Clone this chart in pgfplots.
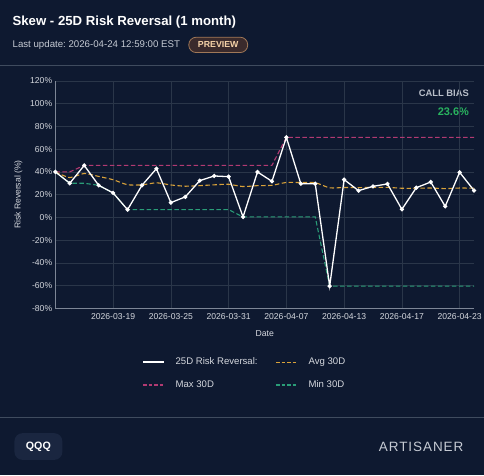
\documentclass[border=0pt]{standalone}
\usepackage{pgfplots}
\usepackage{pgfplotstable}
\pgfplotsset{compat=1.18}
\usepackage{fontspec}
\setmainfont{Liberation Sans}
\newfontfamily\logofont[LetterSpace=7]{Liberation Sans}
\frenchspacing

\definecolor{bg}{HTML}{0E1930}
\definecolor{gridc}{HTML}{2A3649}
\definecolor{axisc}{HTML}{7D8696}
\definecolor{labelc}{HTML}{D5D8DE}
\definecolor{subc}{HTML}{C5CAD3}
\definecolor{sepc}{HTML}{3F4B5E}
\definecolor{avgc}{HTML}{D9A23A}
\definecolor{maxc}{HTML}{B23A72}
\definecolor{minc}{HTML}{2A9D78}
\definecolor{pillfill}{HTML}{3A2A2C}
\definecolor{pilldraw}{HTML}{A07858}
\definecolor{pilltext}{HTML}{F5D2A8}
\definecolor{badgefill}{HTML}{1A2640}
\definecolor{biasc}{HTML}{B9BFC9}
\definecolor{biasval}{HTML}{29B35F}

% trading-day index, 25D risk reversal, running average, running max, running min
\pgfplotstableread{
idx rr    avg  max  min
0   40    40   40   40
1   30    35   40   30
2   45.7  38.6 45.7 30
3   28.2  36.0 45.7 28.2
4   21.5  33.1 45.7 21.5
5   6.8   28.7 45.7 6.8
6   28.2  28.6 45.7 6.8
7   42.8  30.4 45.7 6.8
8   13    28.5 45.7 6.8
9   18    27.4 45.7 6.8
10  32.3  27.9 45.7 6.8
11  36.4  28.6 45.7 6.8
12  35.8  29.1 45.7 6.8
13  0.4   27.1 45.7 0.4
14  39.9  27.9 45.7 0.4
15  31.7  28.2 45.7 0.4
16  70.3  30.7 70.3 0.4
17  29.6  30.6 70.3 0.4
18  29.6  30.5 70.3 0.4
19  -60.4 26.0 70.3 -60.4
20  33.2  26.3 70.3 -60.4
21  23.5  26.2 70.3 -60.4
22  27.3  26.3 70.3 -60.4
23  29.4  26.4 70.3 -60.4
24  7.1   25.6 70.3 -60.4
25  26.1  25.6 70.3 -60.4
26  31.1  25.8 70.3 -60.4
27  9.7   25.3 70.3 -60.4
28  39.6  25.8 70.3 -60.4
29  23.6  25.7 70.3 -60.4
}\rrdata

\begin{document}
\begin{tikzpicture}
\begin{scope}[x=1pt,y=1pt]
% card background
\fill[bg] (0,0) rectangle (484,476);

% header
\node[anchor=base west, inner sep=0pt, text=white, font=\fontsize{13.2}{15}\selectfont\bfseries]
  at (12,450) {Skew - 25D Risk Reversal (1 month)};
\node[anchor=base west, inner sep=0pt, text=subc, font=\fontsize{9.7}{11}\selectfont]
  at (12,428.4) {Last update: 2026-04-24 12:59:00 EST};
\draw[pilldraw, fill=pillfill, line width=0.8pt, rounded corners=7.5pt]
  (188.7,423.3) rectangle (247.7,438.7);
\node[text=pilltext, font=\fontsize{8.8}{10}\selectfont\bfseries, inner sep=0pt]
  at (218.2,431) {PREVIEW};
\draw[sepc, line width=0.9pt] (0,410) -- (484,410);

% footer
\draw[sepc, line width=0.9pt] (0,57.7) -- (484,57.7);
\fill[badgefill, rounded corners=8pt] (14,15.3) rectangle (62,42);
\node[text=white, font=\fontsize{10.7}{12}\selectfont\bfseries, inner sep=0pt]
  at (38,28.7) {QQQ};
\node[anchor=east, text=subc, font=\fontsize{13.5}{15}\logofont, inner sep=0pt]
  at (464,28.7) {ARTISANER};

% call bias readout
\node[anchor=east, inner sep=0pt, text=biasc, font=\fontsize{9.4}{11}\selectfont\bfseries]
  at (469.5,382.7) {CALL BIAS};
\node[anchor=east, inner sep=0pt, text=biasval, font=\fontsize{11}{13}\selectfont\bfseries]
  at (469.5,364.3) {23.6\%};
\end{scope}

\begin{axis}[
  at={(55pt,167pt)}, anchor=south west,
  scale only axis, width=419.5pt, height=228pt,
  xmin=0, xmax=29, ymin=-80, ymax=120,
  clip=false,
  axis x line*=bottom, axis y line*=left,
  axis line style={draw=axisc, line width=0.8pt, -},
  xtick={4,8,12,16,20,24,28},
  xticklabels={2026-03-19,2026-03-25,2026-03-31,2026-04-07,2026-04-13,2026-04-17,2026-04-23},
  ytick={-80,-60,...,120},
  yticklabel={\pgfmathprintnumber[assume math mode=true]{\tick}\%},
  grid=major, major grid style={draw=gridc, line width=0.6pt},
  major tick length=0pt,
  tick label style={text=labelc, font=\fontsize{8.6}{10}\selectfont, inner sep=0pt},
  yticklabel style={xshift=-3pt},
  xticklabel style={yshift=-4.5pt},
  xlabel={Date}, ylabel={Risk Reversal (\%)},
  every axis x label/.style={at={(axis description cs:0.5,0)}, anchor=center, yshift=-25pt,
    text=labelc, font=\fontsize{8.7}{10}\selectfont},
  every axis y label/.style={at={(axis description cs:0,0.5)}, xshift=-37pt, rotate=90,
    anchor=center, text=labelc, font=\fontsize{8.6}{10}\selectfont},
  legend columns=2,
  legend cell align=left,
  legend image code/.code={\draw[#1] (0pt,0pt) -- (21pt,0pt);},
  legend style={at={(axis description cs:0.2074,-0.212)}, anchor=north west,
    draw=none, fill=none, text=labelc, inner sep=0pt,
    font=\fontsize{9.6}{11}\selectfont,
    nodes={inner sep=1pt},
    /tikz/every odd column/.append style={column sep=10pt},
    /tikz/every even column/.append style={column sep=17pt},
    row sep=12.5pt},
]
\addlegendimage{white, line width=1.3pt}
\addlegendentry{25D Risk Reversal:}
\addlegendimage{avgc, line width=1.1pt, dash pattern=on 3.5pt off 2pt}
\addlegendentry{Avg 30D}
\addlegendimage{maxc, line width=1.1pt, dash pattern=on 3.5pt off 2pt}
\addlegendentry{Max 30D}
\addlegendimage{minc, line width=1.1pt, dash pattern=on 3.5pt off 2pt}
\addlegendentry{Min 30D}

\addplot[forget plot, maxc, line width=1.1pt, dash pattern=on 4.5pt off 2.5pt] table[x=idx, y=max] {\rrdata};
\addplot[forget plot, minc, line width=1.1pt, dash pattern=on 4.5pt off 2.5pt] table[x=idx, y=min] {\rrdata};
\addplot[forget plot, avgc, line width=1.1pt, dash pattern=on 4.5pt off 2.5pt, smooth, tension=0.4] table[x=idx, y=avg] {\rrdata};
\addplot[forget plot, white, line width=1.3pt, mark=*, mark size=1.4pt, mark options={fill=white, draw=white, solid}]
  table[x=idx, y=rr] {\rrdata};
\end{axis}
\end{tikzpicture}
\end{document}
